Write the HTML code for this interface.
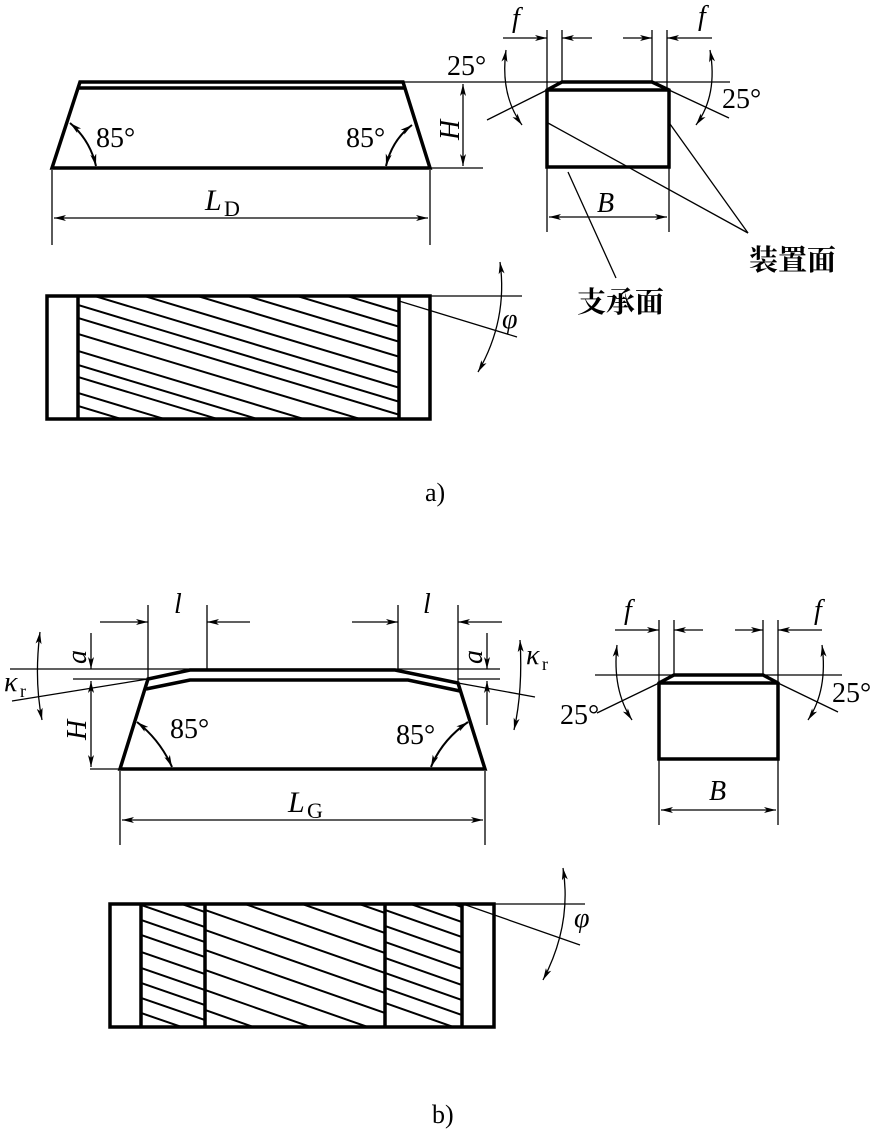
<!DOCTYPE html>
<html><head><meta charset="utf-8"><style>
html,body{margin:0;padding:0;background:#fff}
svg{display:block}
text{font-family:"Liberation Serif","Noto Serif CJK SC",serif;fill:#000}
.i{font-style:italic}
.cn{font-family:"Liberation Serif","Noto Serif CJK SC",serif;font-weight:bold}
</style></head><body>
<svg width="876" height="1130" viewBox="0 0 876 1130" xmlns="http://www.w3.org/2000/svg">
<defs>
<marker id="a" viewBox="0 0 12 6" refX="12" refY="3" markerWidth="13" markerHeight="6" markerUnits="userSpaceOnUse" orient="auto-start-reverse">
<path d="M0,0 L12,3 L0,6 L3,3 z" fill="#000"/></marker>
<clipPath id="c1"><rect x="78" y="296" width="321" height="123"/></clipPath>
<clipPath id="c2"><rect x="141" y="904" width="64" height="123"/></clipPath>
<clipPath id="c3"><rect x="205" y="904" width="180" height="123"/></clipPath>
<clipPath id="c4"><rect x="385" y="904" width="77" height="123"/></clipPath>
</defs>
<g fill="none" stroke="#000">
<g stroke-width="3.5">
<path d="M52,168 L430,168 L403,82 L80,82 Z"/>
<line x1="78" y1="88" x2="405" y2="88"/>
</g>
<g stroke-width="1.3">
<line x1="403" y1="82" x2="485" y2="82"/>
<line x1="430" y1="168" x2="483" y2="168"/>
<line x1="463" y1="84" x2="463" y2="166" marker-start="url(#a)" marker-end="url(#a)"/>
<line x1="52" y1="170" x2="52" y2="245"/>
<line x1="430" y1="170" x2="430" y2="245"/>
<line x1="54" y1="218" x2="428" y2="218" marker-start="url(#a)" marker-end="url(#a)"/>
<path d="M70,123 Q90,140 96,166" marker-start="url(#a)" marker-end="url(#a)" stroke-width="2"/>
<path d="M412,125 Q392,140 386,166" marker-start="url(#a)" marker-end="url(#a)" stroke-width="2"/>
</g>
<g stroke-width="3.5">
<path d="M547,167 L669,167 L669,90 L652,82 L562,82 L547,90 Z"/>
<line x1="547" y1="90" x2="669" y2="90"/>
</g>
<g stroke-width="1.3">
<line x1="485" y1="82" x2="730" y2="82"/>
<line x1="547" y1="30" x2="547" y2="90"/>
<line x1="562" y1="30" x2="562" y2="82"/>
<line x1="652" y1="30" x2="652" y2="82"/>
<line x1="667" y1="30" x2="667" y2="90"/>
<line x1="503" y1="38" x2="547" y2="38" marker-end="url(#a)"/>
<line x1="592" y1="38" x2="562" y2="38" marker-end="url(#a)"/>
<line x1="623" y1="38" x2="652" y2="38" marker-end="url(#a)"/>
<line x1="712" y1="38" x2="667" y2="38" marker-end="url(#a)"/>
<line x1="547" y1="90" x2="487" y2="120"/>
<line x1="669" y1="90" x2="729" y2="118"/>
<path d="M506,50 Q500,95 522,125" marker-start="url(#a)" marker-end="url(#a)"/>
<path d="M710,50 Q718,95 696,125" marker-start="url(#a)" marker-end="url(#a)"/>
<line x1="548" y1="123" x2="748" y2="233"/>
<line x1="670" y1="124" x2="748" y2="233"/>
<line x1="568" y1="172" x2="616" y2="278"/>
<line x1="547" y1="168" x2="547" y2="232"/>
<line x1="669" y1="168" x2="669" y2="232"/>
<line x1="549" y1="217" x2="667" y2="217" marker-start="url(#a)" marker-end="url(#a)"/>
</g>
<g stroke-width="3.5">
<rect x="47" y="296" width="383" height="123"/>
<line x1="78" y1="296" x2="78" y2="419"/>
<line x1="399" y1="296" x2="399" y2="419"/>
</g>
<g stroke-width="2" clip-path="url(#c1)">
<line x1="78" y1="200" x2="400" y2="297"/>
<line x1="78" y1="215" x2="400" y2="312"/>
<line x1="78" y1="230" x2="400" y2="327"/>
<line x1="78" y1="245" x2="400" y2="342"/>
<line x1="78" y1="260" x2="400" y2="357"/>
<line x1="78" y1="276" x2="400" y2="373"/>
<line x1="78" y1="291" x2="400" y2="388"/>
<line x1="78" y1="305" x2="400" y2="402"/>
<line x1="78" y1="318" x2="400" y2="415"/>
<line x1="78" y1="334" x2="400" y2="431"/>
<line x1="78" y1="351" x2="400" y2="448"/>
<line x1="78" y1="365" x2="400" y2="462"/>
<line x1="78" y1="377" x2="400" y2="474"/>
<line x1="78" y1="393" x2="400" y2="490"/>
<line x1="78" y1="406" x2="400" y2="503"/>
</g>
<g stroke-width="1.3">
<line x1="430" y1="296" x2="522" y2="296"/>
<line x1="399" y1="301" x2="517" y2="337"/>
<path d="M500,262 Q508,320 478,372" marker-start="url(#a)" marker-end="url(#a)"/>
</g>

<g stroke-width="3.5">
<path d="M120,769 L485,769 L458,683 L395,670 L190,670 L148,679 Z"/>
<path d="M146,689 L190,680 L408,680 L460,691"/>
</g>
<g stroke-width="1.3">
<line x1="10" y1="669" x2="500" y2="669"/>
<line x1="73" y1="679" x2="148" y2="679"/>
<line x1="458" y1="679" x2="500" y2="679"/>
<line x1="90" y1="769" x2="120" y2="769"/>
<line x1="12" y1="701" x2="148" y2="679"/>
<line x1="458" y1="683" x2="535" y2="697"/>
<line x1="91" y1="633" x2="91" y2="669" marker-end="url(#a)"/>
<line x1="91" y1="681" x2="91" y2="767" marker-start="url(#a)" marker-end="url(#a)"/>
<line x1="487" y1="633" x2="487" y2="669" marker-end="url(#a)"/>
<line x1="487" y1="725" x2="487" y2="681" marker-end="url(#a)"/>
<path d="M40,632 Q34,680 42,720" marker-start="url(#a)" marker-end="url(#a)"/>
<path d="M520,640 Q523,690 514,730" marker-start="url(#a)" marker-end="url(#a)"/>
<line x1="148" y1="605" x2="148" y2="679"/>
<line x1="207" y1="605" x2="207" y2="670"/>
<line x1="398" y1="605" x2="398" y2="670"/>
<line x1="458" y1="605" x2="458" y2="683"/>
<line x1="100" y1="622" x2="148" y2="622" marker-end="url(#a)"/>
<line x1="250" y1="622" x2="207" y2="622" marker-end="url(#a)"/>
<line x1="352" y1="622" x2="398" y2="622" marker-end="url(#a)"/>
<line x1="502" y1="622" x2="458" y2="622" marker-end="url(#a)"/>
<path d="M137,722 Q160,740 172,767" marker-start="url(#a)" marker-end="url(#a)" stroke-width="2"/>
<path d="M468,722 Q442,740 431,767" marker-start="url(#a)" marker-end="url(#a)" stroke-width="2"/>
<line x1="120" y1="771" x2="120" y2="845"/>
<line x1="485" y1="771" x2="485" y2="845"/>
<line x1="122" y1="820" x2="483" y2="820" marker-start="url(#a)" marker-end="url(#a)"/>
</g>
<g stroke-width="3.5">
<path d="M659,759 L778,759 L778,683 L763,675 L674,675 L659,683 Z"/>
<line x1="659" y1="683" x2="778" y2="683"/>
</g>
<g stroke-width="1.3">
<line x1="595" y1="675" x2="842" y2="675"/>
<line x1="659" y1="620" x2="659" y2="683"/>
<line x1="674" y1="620" x2="674" y2="675"/>
<line x1="763" y1="620" x2="763" y2="675"/>
<line x1="778" y1="620" x2="778" y2="683"/>
<line x1="615" y1="630" x2="659" y2="630" marker-end="url(#a)"/>
<line x1="703" y1="630" x2="674" y2="630" marker-end="url(#a)"/>
<line x1="735" y1="630" x2="763" y2="630" marker-end="url(#a)"/>
<line x1="822" y1="630" x2="778" y2="630" marker-end="url(#a)"/>
<line x1="659" y1="683" x2="597" y2="713"/>
<line x1="778" y1="683" x2="838" y2="712"/>
<path d="M617,645 Q612,690 632,720" marker-start="url(#a)" marker-end="url(#a)"/>
<path d="M822,645 Q828,690 808,720" marker-start="url(#a)" marker-end="url(#a)"/>
<line x1="659" y1="760" x2="659" y2="825"/>
<line x1="778" y1="760" x2="778" y2="825"/>
<line x1="661" y1="810" x2="776" y2="810" marker-start="url(#a)" marker-end="url(#a)"/>
</g>
<g stroke-width="3.5">
<rect x="110" y="904" width="384" height="123"/>
<line x1="141" y1="904" x2="141" y2="1027"/>
<line x1="205" y1="904" x2="205" y2="1027"/>
<line x1="385" y1="904" x2="385" y2="1027"/>
<line x1="462" y1="904" x2="462" y2="1027"/>
</g>
<g stroke-width="2">
<g clip-path="url(#c2)">
<line x1="141" y1="890" x2="205" y2="912"/><line x1="141" y1="905" x2="205" y2="927"/>
<line x1="141" y1="920" x2="205" y2="942"/><line x1="141" y1="935" x2="205" y2="957"/>
<line x1="141" y1="952" x2="205" y2="974"/><line x1="141" y1="968" x2="205" y2="990"/>
<line x1="141" y1="983" x2="205" y2="1005"/><line x1="141" y1="998" x2="205" y2="1020"/>
<line x1="141" y1="1013" x2="205" y2="1035"/>
</g>
<g clip-path="url(#c3)">
<line x1="205" y1="850" x2="385" y2="913"/><line x1="205" y1="870" x2="385" y2="933"/>
<line x1="205" y1="890" x2="385" y2="953"/><line x1="205" y1="910" x2="385" y2="973"/>
<line x1="205" y1="930" x2="385" y2="993"/><line x1="205" y1="950" x2="385" y2="1013"/>
<line x1="205" y1="970" x2="385" y2="1033"/><line x1="205" y1="990" x2="385" y2="1053"/>
<line x1="205" y1="1010" x2="385" y2="1073"/>
</g>
<g clip-path="url(#c4)">
<line x1="385" y1="880" x2="462" y2="907"/><line x1="385" y1="895" x2="462" y2="922"/>
<line x1="385" y1="910" x2="462" y2="937"/><line x1="385" y1="926" x2="462" y2="953"/>
<line x1="385" y1="942" x2="462" y2="969"/><line x1="385" y1="958" x2="462" y2="985"/>
<line x1="385" y1="973" x2="462" y2="1000"/><line x1="385" y1="988" x2="462" y2="1015"/>
<line x1="385" y1="1003" x2="462" y2="1030"/>
</g>
</g>
<g stroke-width="1.3">
<line x1="494" y1="904" x2="585" y2="904"/>
<line x1="463" y1="904" x2="580" y2="945"/>
<path d="M563,868 Q572,925 543,980" marker-start="url(#a)" marker-end="url(#a)"/>
</g>
</g>

<g font-size="28">
<text x="96" y="147">85°</text>
<text x="346" y="147">85°</text>
<text x="205" y="210" class="i" font-size="30">L</text><text x="224" y="216" font-size="22">D</text>
<text x="0" y="0" class="i" transform="translate(459,140) rotate(-90)">H</text>
<text x="447" y="75">25°</text>
<text x="722" y="108">25°</text>
<text x="512" y="27" class="i">f</text>
<text x="698" y="25" class="i">f</text>
<text x="597" y="212" class="i">B</text>
<text x="749" y="270" class="cn" font-size="29">装置面</text>
<text x="577" y="312" class="cn" font-size="29">支承面</text>
<text x="502" y="328" class="i">φ</text>
<text x="425" y="501" font-size="26">a)</text>

<text x="174" y="613" class="i">l</text>
<text x="423" y="613" class="i">l</text>
<text x="0" y="0" class="i" transform="translate(86,664) rotate(-90)">a</text>
<text x="0" y="0" class="i" transform="translate(482,664) rotate(-90)">a</text>
<text x="0" y="0" class="i" transform="translate(86,740) rotate(-90)">H</text>
<text x="4" y="691" class="i">κ</text><text x="20" y="697" font-size="18">r</text>
<text x="526" y="664" class="i">κ</text><text x="542" y="670" font-size="18">r</text>
<text x="170" y="738">85°</text>
<text x="396" y="744">85°</text>
<text x="288" y="812" class="i" font-size="30">L</text><text x="307" y="818" font-size="22">G</text>
<text x="624" y="619" class="i">f</text>
<text x="814" y="619" class="i">f</text>
<text x="560" y="724">25°</text>
<text x="832" y="702">25°</text>
<text x="709" y="800" class="i">B</text>
<text x="574" y="927" class="i">φ</text>
<text x="432" y="1123" font-size="26">b)</text>
</g>
</svg>
</body></html>
